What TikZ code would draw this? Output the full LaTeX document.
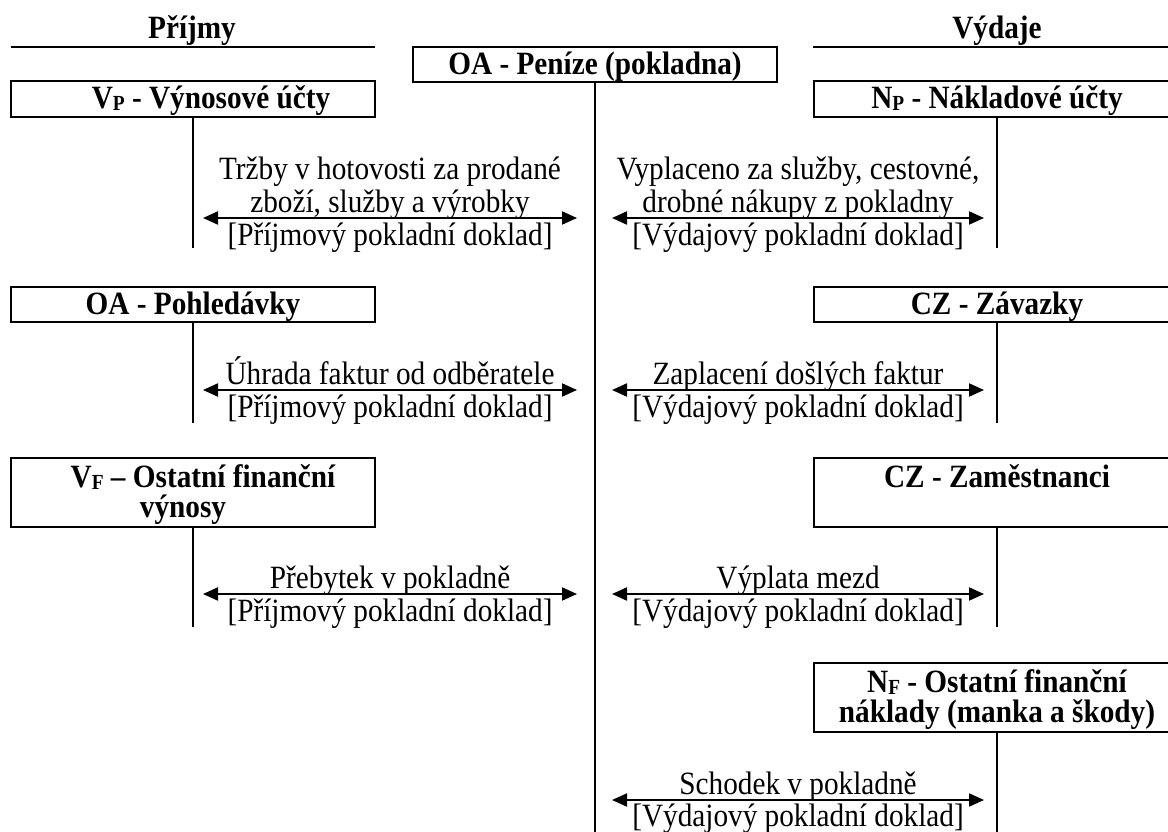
\documentclass[tikz,border=0pt]{standalone}
\usepackage{fontspec}
\setmainfont{Liberation Serif}[FakeStretch=0.9]
\usetikzlibrary{arrows.meta}
% small lowered index letter used in account names (V_P, N_F, ...)
\newcommand\lowsub[1]{\raisebox{-2pt}{\fontsize{21.5}{21.5}\selectfont #1}}
% fixed height/depth so that all box texts sit on the same baselines
\newcommand\hstrut{\rule{0pt}{27.5pt}}
\newcommand\dstrut{\rule[-7.5pt]{0pt}{7.5pt}}
\begin{document}
\begin{tikzpicture}[x=1pt,y=-1pt,
  every node/.style={inner sep=0pt, outer sep=0pt, font=\fontsize{32.5}{33}\selectfont},
  acct/.style={draw, line width=2pt, minimum width=364pt, minimum height=35.5pt,
    align=center, font=\fontsize{32.5}{30}\selectfont\bfseries},
  acctR/.style={acct, minimum width=366pt},
  acctII/.style={acct, minimum height=69pt},
  acctIIR/.style={acctR, minimum height=69pt},
  head/.style={anchor=base, font=\fontsize{32.5}{30}\selectfont\bfseries},
  headline/.style={line width=2pt},
  link/.style={line width=2pt},
  flow/.style={line width=2pt, {Triangle[length=15pt,width=13pt]}-{Triangle[length=15pt,width=13pt]}},
  note/.style={align=center, anchor=south},
  doc/.style={anchor=base}]
\useasboundingbox (0,0) rectangle (1168,832);

% column headings
\node[head] (inc) at (192,39) {Příjmy};
\node[head] (exp) at (997,39) {Výdaje};
\draw[headline] (11,47) -- (375,47);
\draw[headline] (813,47) -- (1180,47);

% accounts
\node[acct] (pen) at (595,64.5) {\hstrut OA - Peníze (pokladna)\dstrut};
\node[acct] (vp) at (193,99) {\hstrut\hspace*{36pt}V\lowsub{P} - Výnosové účty\dstrut};
\node[acctR] (np) at (997,99) {\hstrut N\lowsub{P} - Nákladové účty\dstrut};
\node[acct] (poh) at (193,304.5) {\hstrut OA - Pohledávky\dstrut};
\node[acctR] (zav) at (997,304.5) {\hstrut CZ - Závazky\dstrut};
\node[acctII] (vf) at (193,492.5) {\hstrut\hspace*{20pt}V\lowsub{F} – Ostatní finanční\\výnosy\hspace*{20pt}\dstrut};
\node[acctIIR] (zam) at (997,492.5) {\hstrut CZ - Zaměstnanci\\\dstrut};
\node[acctIIR] (nf) at (997,697.5) {\hstrut N\lowsub{F} - Ostatní finanční\\náklady (manka a škody)\dstrut};

% ends of the account stems
\coordinate (penEnd) at (595,832);
\coordinate (vpEnd) at (193,248);
\coordinate (npEnd) at (997,248);
\coordinate (pohEnd) at (193,423);
\coordinate (zavEnd) at (997,423);
\coordinate (vfEnd) at (193,627);
\coordinate (zamEnd) at (997,627);
\coordinate (nfEnd) at (997,832);

\draw[link] (pen.south) -- (penEnd);
\draw[link] (vp.south) -- (vpEnd);
\draw[link] (np.south) -- (npEnd);
\draw[link] (poh.south) -- (pohEnd);
\draw[link] (zav.south) -- (zavEnd);
\draw[link] (vf.south) -- (vfEnd);
\draw[link] (zam.south) -- (zamEnd);
\draw[link] (nf.south) -- (nfEnd);

% cash flows: left = receipts, right = payments
\coordinate (a1l) at (203,218); \coordinate (a1r) at (577,218);
\coordinate (b1l) at (612,218); \coordinate (b1r) at (984,218);
\coordinate (a2l) at (203,390); \coordinate (a2r) at (577,390);
\coordinate (b2l) at (612,390); \coordinate (b2r) at (984,390);
\coordinate (a3l) at (203,594); \coordinate (a3r) at (577,594);
\coordinate (b3l) at (612,594); \coordinate (b3r) at (984,594);
\coordinate (b4l) at (612,800); \coordinate (b4r) at (984,800);

\draw[flow] (a1l) -- (a1r);
\draw[flow] (b1l) -- (b1r);
\draw[flow] (a2l) -- (a2r);
\draw[flow] (b2l) -- (b2r);
\draw[flow] (a3l) -- (a3r);
\draw[flow] (b3l) -- (b3r);
\draw[flow] (b4l) -- (b4r);

% flow descriptions and documents
\node[note] (t1a) at (390,219.5) {Tržby v hotovosti za prodané\\zboží, služby a výrobky\dstrut};
\node[doc] (d1a) at (390,245) {[Příjmový pokladní doklad]};
\node[note] (t1b) at (798,219.5) {Vyplaceno za služby, cestovné,\\drobné nákupy z pokladny\dstrut};
\node[doc] (d1b) at (798,245) {[Výdajový pokladní doklad]};

\node[note] (t2a) at (390,391.5) {Úhrada faktur od odběratele\dstrut};
\node[doc] (d2a) at (390,417) {[Příjmový pokladní doklad]};
\node[note] (t2b) at (798,391.5) {Zaplacení došlých faktur\dstrut};
\node[doc] (d2b) at (798,417) {[Výdajový pokladní doklad]};

\node[note] (t3a) at (390,595.5) {Přebytek v pokladně\dstrut};
\node[doc] (d3a) at (390,621) {[Příjmový pokladní doklad]};
\node[note] (t3b) at (798,595.5) {Výplata mezd\dstrut};
\node[doc] (d3b) at (798,621) {[Výdajový pokladní doklad]};

\node[note] (t4b) at (798,801.5) {Schodek v pokladně\dstrut};
\node[doc] (d4b) at (798,826) {[Výdajový pokladní doklad]};
\end{tikzpicture}
\end{document}
